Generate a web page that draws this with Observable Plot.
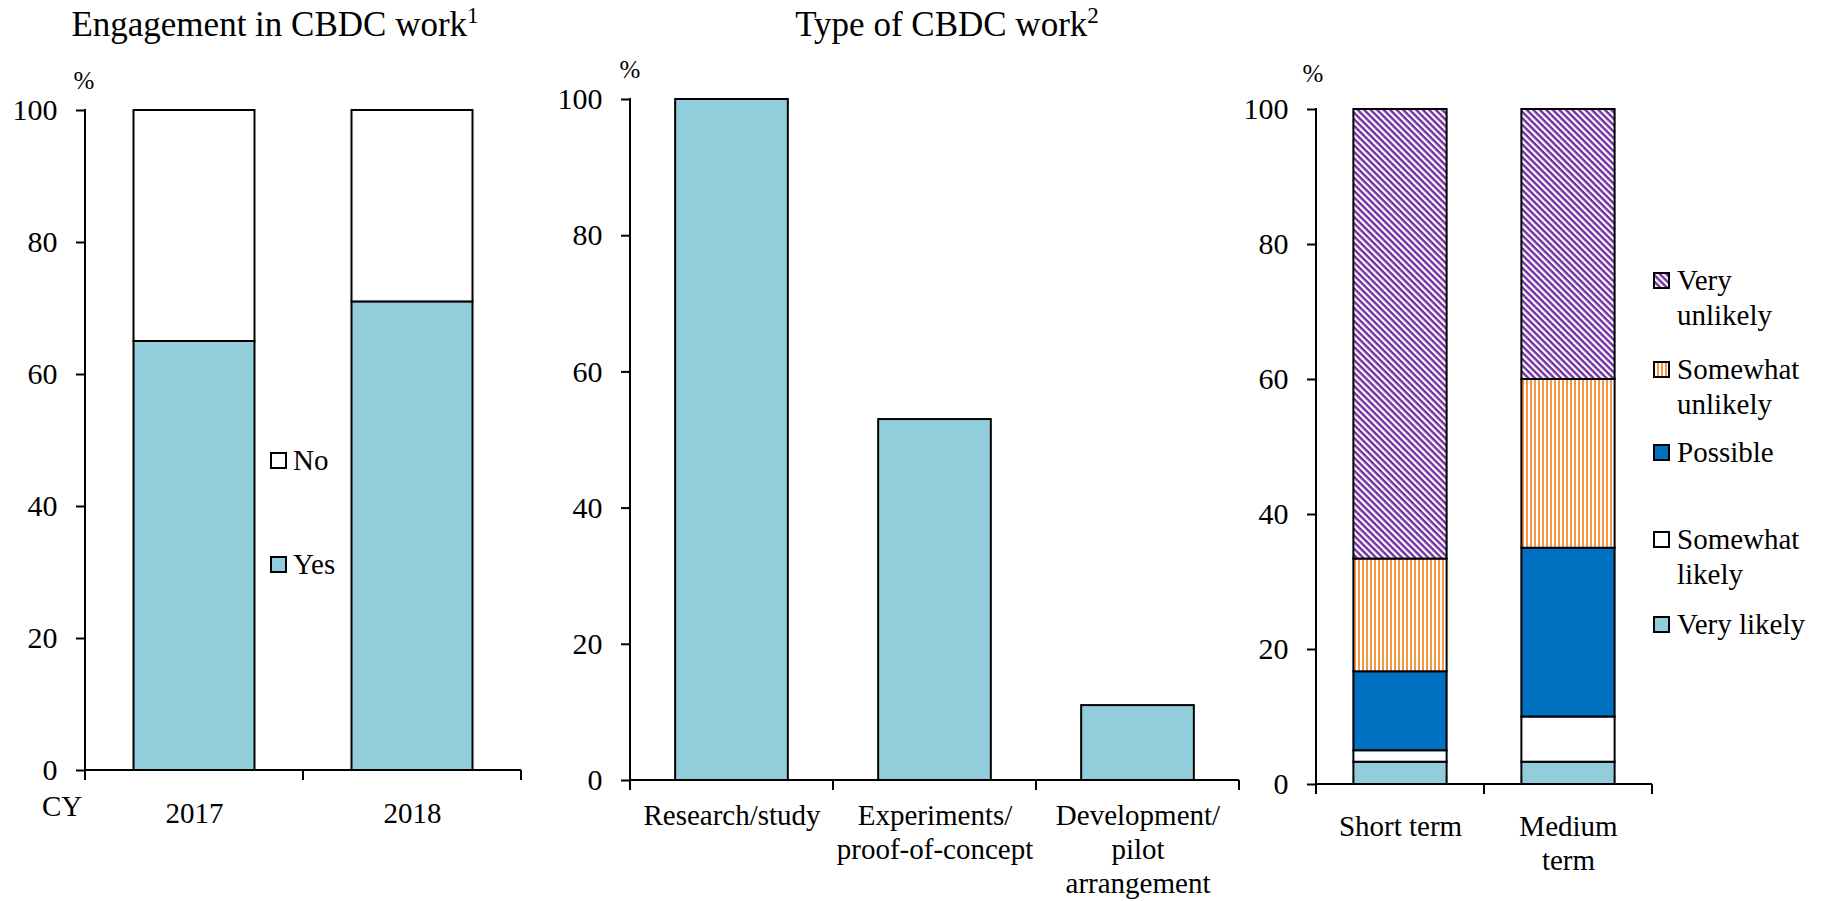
<!DOCTYPE html>
<html>
<head>
<meta charset="utf-8">
<script src="https://cdn.jsdelivr.net/npm/d3@7"></script>
<script src="https://cdn.jsdelivr.net/npm/@observablehq/plot@0.6"></script>
<style>
  body { margin: 0; background: #fff; }
  #chart { position: relative; width: 1826px; height: 901px; overflow: hidden; color: #000; }
  #chart .abs { position: absolute; white-space: nowrap; font-family: "Liberation Serif", "Times New Roman", "DejaVu Serif", serif !important; }
  .title { font-size: 35px; line-height: 35px; transform: translateX(-50%); }
  .title .sup { font-size: 23px; position: relative; top: -13px; }
  .pct { font-size: 25px; line-height: 25px; transform: translate(-50%, -50%); }
  .lgtext { font-size: 29px; line-height: 35px; }
  .sw { position: absolute; }
  .panel { position: absolute; top: 0; }
  .panel svg [aria-label="y-axis tick"] { stroke-width: 2; }
</style>
</head>
<body>
<svg width="0" height="0" style="position:absolute">
  <defs>
    <pattern id="stripe-purple" patternUnits="userSpaceOnUse" width="4.6" height="4.6" patternTransform="rotate(45)">
      <rect width="4.6" height="4.6" fill="#fff"></rect>
      <rect width="4.6" height="2.4" fill="#7030A0"></rect>
    </pattern>
    <pattern id="stripe-orange" patternUnits="userSpaceOnUse" width="4" height="4">
      <rect width="4" height="4" fill="#fff"></rect>
      <rect width="2" height="4" fill="#F79646"></rect>
    </pattern>
  </defs>
</svg>
<div id="chart"></div>
<script>
// Panel 1: engagement in CBDC work, share of respondents (%)
const years = ["2017", "2018"];
const engagedYes = [65, 71];
const engagedNo = [35, 29];
const answerKeys = ["Yes", "No"];
const answerFills = ["#92CDDC", "#FFFFFF"];

// Panel 2: type of CBDC work (%)
const workTypes = ["Research/study", "Experiments/proof-of-concept", "Development/pilot arrangement"];
const workTypeLabels = ["Research/study", "Experiments/\nproof-of-concept", "Development/\npilot\narrangement"];
const workShares = [100, 53, 11];

// Panel 3: likelihood of issuing (%), stacked bottom to top
const horizons = ["Short term", "Medium term"];
const horizonLabels = ["Short term", "Medium\nterm"];
const likelihoods = ["Very likely", "Somewhat likely", "Possible", "Somewhat unlikely", "Very unlikely"];
const likelihoodFills = ["#92CDDC", "#FFFFFF", "#0070C0", "url(#stripe-orange)", "url(#stripe-purple)"];
const shortTerm = [3.3, 1.7, 11.7, 16.7, 66.6];
const mediumTerm = [3.3, 6.7, 25, 25, 40];

const yTicks = [0, 20, 40, 60, 80, 100];

const chart = document.getElementById("chart");
const FONT = "'Liberation Serif','Times New Roman',serif";

// Axis lines and category boundary ticks, placed from the plot's own scales
function decorate(plot) {
  const sx = plot.scale("x"), sy = plot.scale("y");
  const [x0, x1] = sx.range;
  const yb = sy.apply(0), yt = sy.apply(100);
  const g = d3.select(plot).append("g").attr("stroke", "#000").attr("stroke-width", 2).attr("fill", "none");
  g.append("line").attr("x1", x0).attr("x2", x0).attr("y1", yt - 1).attr("y2", yb + 1);
  g.append("line").attr("x1", x0).attr("x2", x1).attr("y1", yb).attr("y2", yb);
  const gap = sx.step - sx.bandwidth;
  const bounds = sx.domain.map(d => sx.apply(d) - gap / 2);
  bounds.push(sx.apply(sx.domain[sx.domain.length - 1]) + sx.bandwidth + gap / 2);
  bounds.forEach(b => g.append("line").attr("x1", b).attr("x2", b).attr("y1", yb).attr("y2", yb + 10));
}

function makePanel(cfg) {
  const plot = Plot.plot({
    width: cfg.width,
    height: 901,
    marginLeft: cfg.ml, marginRight: cfg.mr, marginTop: cfg.mt, marginBottom: cfg.mb,
    style: { fontFamily: FONT, fontSize: "30px", color: "#000", background: "transparent", overflow: "visible" },
    x: { type: "band", domain: cfg.domain, paddingInner: 0.445, paddingOuter: 0.2225, align: 0.5, round: false, axis: null },
    y: { domain: [0, 100], axis: null },
    color: cfg.color,
    marks: [
      ...cfg.marks,
      Plot.axisY({ ticks: yTicks, tickSize: 9, tickPadding: 19, tickFormat: d => String(d), fontSize: 30, label: null, strokeWidth: 2 }),
      Plot.text(cfg.domain, {
        x: d => d, text: (d, i) => cfg.labels[i],
        frameAnchor: "bottom", lineAnchor: "top", dy: cfg.labelDy, lineHeight: 1.16, fontSize: 29
      })
    ]
  });
  decorate(plot);
  const holder = document.createElement("div");
  holder.className = "panel";
  holder.style.left = cfg.left + "px";
  holder.appendChild(plot);
  chart.appendChild(holder);
  return plot;
}

// Panel 1
const engagementRows = [];
years.forEach((y, i) => {
  engagementRows.push({ year: y, answer: "Yes", share: engagedYes[i] });
  engagementRows.push({ year: y, answer: "No", share: engagedNo[i] });
});
makePanel({
  left: 0, width: 600, ml: 85, mr: 79, mt: 110, mb: 131,
  domain: years, labels: years, labelDy: 29,
  color: { domain: answerKeys, range: answerFills },
  marks: [
    Plot.barY(engagementRows, Plot.stackY({ x: "year", y: "share", fill: "answer", stroke: "#000", strokeWidth: 2 }))
  ]
});

// Panel 2
const workRows = workTypes.map((t, i) => ({ type: t, share: workShares[i] }));
makePanel({
  left: 540, width: 740, ml: 90, mr: 41, mt: 99, mb: 121,
  domain: workTypes, labels: workTypeLabels, labelDy: 21,
  color: { domain: ["share"], range: ["#92CDDC"] },
  marks: [
    Plot.barY(workRows, { x: "type", y: "share", fill: "#92CDDC", stroke: "#000", strokeWidth: 2 })
  ]
});

// Panel 3
const likelihoodRows = [];
horizons.forEach((h, hi) => {
  const vals = hi === 0 ? shortTerm : mediumTerm;
  likelihoods.forEach((l, li) => likelihoodRows.push({ horizon: h, likelihood: l, share: vals[li] }));
});
makePanel({
  left: 1230, width: 450, ml: 86, mr: 28, mt: 109, mb: 117,
  domain: horizons, labels: horizonLabels, labelDy: 28,
  color: { domain: likelihoods, range: likelihoodFills },
  marks: [
    Plot.barY(likelihoodRows, Plot.stackY({ x: "horizon", y: "share", fill: "likelihood", stroke: "#000", strokeWidth: 2 }))
  ]
});

// Titles, unit labels, legends
function addDiv(cls, html, left, top) {
  const d = document.createElement("div");
  d.className = "abs " + cls;
  d.innerHTML = html;
  d.style.left = left + "px";
  d.style.top = top + "px";
  d.style.fontFamily = FONT;
  chart.appendChild(d);
  return d;
}
addDiv("title", 'Engagement in CBDC work<span class="sup">1</span>', 275, 7);
addDiv("title", 'Type of CBDC work<span class="sup">2</span>', 947, 7);
addDiv("pct", "%", 84, 80);
addDiv("pct", "%", 630, 69);
addDiv("pct", "%", 1313, 73);
addDiv("lgtext", "CY", 42, 789);

function swatch(fill, left, cy) {
  const ns = "http://www.w3.org/2000/svg";
  const s = document.createElementNS(ns, "svg");
  s.setAttribute("width", 18); s.setAttribute("height", 18);
  s.setAttribute("class", "sw");
  s.style.left = left + "px"; s.style.top = (cy - 9) + "px";
  const r = document.createElementNS(ns, "rect");
  r.setAttribute("x", 1); r.setAttribute("y", 1); r.setAttribute("width", 15); r.setAttribute("height", 15);
  r.setAttribute("fill", fill); r.setAttribute("stroke", "#000"); r.setAttribute("stroke-width", 2);
  s.appendChild(r);
  chart.appendChild(s);
}

// Panel 1 legend (No above Yes)
const answerLegendY = { No: 461, Yes: 565 };
["No", "Yes"].forEach(k => {
  swatch(answerFills[answerKeys.indexOf(k)], 270, answerLegendY[k]);
  addDiv("lgtext", k, 293, answerLegendY[k] - 18);
});

// Panel 3 legend (top of stack first)
const likelihoodLegend = [
  { key: "Very unlikely", text: "Very<br>unlikely", cy: 281 },
  { key: "Somewhat unlikely", text: "Somewhat<br>unlikely", cy: 370 },
  { key: "Possible", text: "Possible", cy: 453 },
  { key: "Somewhat likely", text: "Somewhat<br>likely", cy: 540 },
  { key: "Very likely", text: "Very likely", cy: 625 }
];
likelihoodLegend.forEach(item => {
  swatch(likelihoodFills[likelihoods.indexOf(item.key)], 1653, item.cy);
  addDiv("lgtext", item.text, 1677, item.cy - 18);
});
</script>
</body>
</html>
